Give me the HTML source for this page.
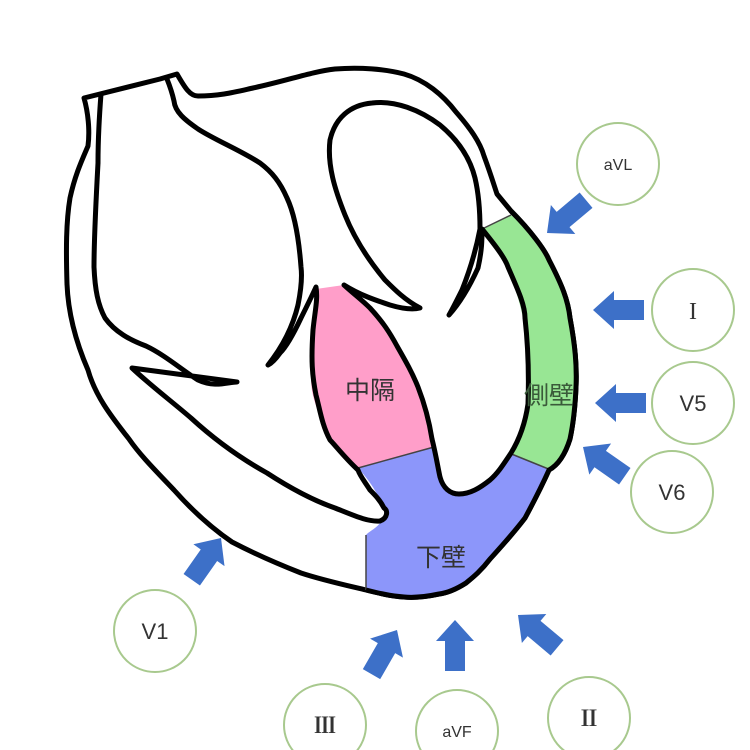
<!DOCTYPE html>
<html><head><meta charset="utf-8"><style>
html,body{margin:0;padding:0;background:#fff;width:750px;height:750px;overflow:hidden}
svg{display:block}
.t{font-family:"Liberation Sans","Noto Sans CJK JP",sans-serif;fill:#333}
.s{font-family:"Liberation Serif","Noto Serif CJK SC",serif}
.b{font-weight:bold}
</style></head><body>
<svg width="750" height="750" viewBox="0 0 750 750" xmlns="http://www.w3.org/2000/svg">
<defs>
<polygon id="ar" points="0,0 -21,-19 -21,-10 -51,-10 -51,10 -21,10 -21,19" fill="#3d70c8"/>
</defs>
<path d="M84,98 L160,79 L177,74 C185,88 190,96 198,96 C220,96 235,92 253,88 C290,80 310,72 335,69 C360,67 385,69 404,74 C425,80 443,95 456,112 C470,128 480,142 484,156 C490,172 494,185 497,194 L511,211 C530,230 545,250 549,260 C562,285 568,300 570,318 C575,345 577,365 576,387 C575,410 573,425 570,439 C565,455 558,465 549,470 C540,490 532,505 525,518 C512,535 500,548 490,559 C480,572 472,578 466,583 C455,590 447,593 439,594 C425,597 415,598 404,597 C390,596 378,593 366,590 C345,585 322,580 301,573 C278,564 255,554 232,542 C210,527 190,508 174,490 C155,470 140,455 129,439 C110,415 95,395 88,370 C75,340 68,310 67,284 C66,250 66,222 70,198 C75,175 82,160 88,146 C90,130 88,112 84,98 Z" fill="#fff" stroke="#000" stroke-width="5" stroke-linejoin="round"/>
<path d="M316,289 L344,285 C355,295 362,300 370,308 C383,322 390,333 397,346 C405,360 412,372 418,387 C425,405 429,420 432,439 L434,447 L358,468 C345,458 337,450 335,445 C326,430 322,425 322,421 C313,400 311,390 311,377 C311,355 312,340 313,330 C314,315 315,300 316,289 Z" fill="#ff9ec9"/>
<path d="M358,468 L434,447 C437,462 438,472 440,477 C443,488 450,494 459,494 C475,492 483,486 490,480 C500,470 506,460 509,453 L551,470 C545,485 535,505 525,518 C512,535 500,548 490,559 C480,572 472,578 466,583 C455,590 447,593 439,594 C425,597 415,598 404,597 C390,596 378,593 366,590 L366,535 C370,530 380,528 384,515 C385,505 382,498 377,494 C372,485 367,478 358,468 Z" fill="#8c96fa"/>
<path d="M482,229 L511,215 C530,232 542,248 549,260 C562,285 568,300 570,318 C575,345 577,365 576,387 C575,410 573,425 570,439 C565,455 558,465 551,470 L509,453 C516,443 521,430 528,404 C529,380 528,360 527,350 C525,320 520,300 508,270 C500,255 490,240 482,229 Z" fill="#98e694"/>
<path d="M358,468 L434,447 M509,453 L551,470 M366,535 L366,590 M482,229 L511,215" stroke="#444" stroke-width="1.5" fill="none"/>
<path d="M511,211 C530,230 545,250 549,260 C562,285 568,300 570,318 C575,345 577,365 576,387 C575,410 573,425 570,439 C565,455 558,465 549,470 C540,490 532,505 525,518 C512,535 500,548 490,559 C480,572 472,578 466,583 C455,590 447,593 439,594 C425,597 415,598 404,597 C390,596 378,593 366,590" fill="none" stroke="#000" stroke-width="5"/>
<path d="M101,94 C99,120 98,140 98,163 C96,200 94,240 94,267 C95,290 98,305 105,318 C115,332 130,340 146,346 C165,355 182,370 198,380 C215,388 228,382 237,382 L132,368 C150,385 170,400 191,418 C215,440 240,458 267,473 C290,488 312,500 335,508 C355,516 368,522 380,521 C388,518 388,510 384,508 C380,500 375,495 370,490 C365,482 360,476 358,470 C345,458 335,445 330,440 C322,425 320,410 316,395 C312,375 311,360 313,330 C315,310 318,300 316,287 C310,300 305,310 301,318 C293,335 285,348 280,353 C275,360 272,363 268,365 C280,350 292,330 298,305 C302,285 302,275 301,267 C299,240 295,215 287,198 C280,182 272,172 260,163 C240,150 215,140 198,129 C185,120 175,112 174,101 C172,92 169,84 167,79" fill="none" stroke="#000" stroke-width="5" stroke-linejoin="round" stroke-linecap="round"/>
<path d="M344,285 C360,295 375,300 390,305 C400,308 412,310 420,308 C405,300 395,290 385,280 C370,262 355,240 345,215 C335,190 327,165 330,140 C335,118 350,105 372,103 C395,100 420,110 440,125 C458,140 470,158 475,178 C479,195 480,212 480,229 C475,255 468,275 462,290 C456,302 452,310 449,315 C458,305 468,290 478,268 C482,250 482,240 482,229 C495,245 505,258 508,267 C518,290 525,305 525,318 C528,345 529,375 528,404 C525,425 519,440 511,453 C503,465 498,473 490,480 C480,488 470,494 459,494 C450,494 443,488 440,477 C438,468 436,455 432,439 C429,420 425,405 418,387 C412,372 405,360 397,346 C390,333 383,322 370,308 C362,300 355,295 344,285" fill="none" stroke="#000" stroke-width="5" stroke-linejoin="round" stroke-linecap="round"/>
<text class="t" x="370" y="399" font-size="25" text-anchor="middle">中隔</text>
<text class="t" x="549" y="404" font-size="25" text-anchor="middle" style="fill:#3a5a3a">側壁</text>
<text class="t" x="441" y="566" font-size="25" text-anchor="middle">下壁</text>
<g fill="#fff" stroke="#a8c98e" stroke-width="2">
<circle cx="618" cy="164" r="41"/>
<circle cx="693" cy="310" r="41"/>
<circle cx="693" cy="403" r="41"/>
<circle cx="672" cy="492" r="41"/>
<circle cx="155" cy="631" r="41"/>
<circle cx="325" cy="725" r="41"/>
<circle cx="457" cy="731" r="41"/>
<circle cx="589" cy="718" r="41"/>
</g>
<g class="t" text-anchor="middle">
<text x="618" y="170" font-size="16">aVL</text>
<text class="t s" x="693" y="319" font-size="24">I</text>
<text x="693" y="411" font-size="22">V5</text>
<text x="672" y="500" font-size="22">V6</text>
<text x="155" y="639" font-size="22">V1</text>
<text class="t s b" x="325" y="733" font-size="22">Ⅲ</text>
<text x="457" y="737" font-size="16">aVF</text>
<text class="t s b" x="589" y="726" font-size="22">Ⅱ</text>
</g>
<use href="#ar" transform="translate(547,233) rotate(140)"/>
<use href="#ar" transform="translate(593,310) rotate(180)"/>
<use href="#ar" transform="translate(595,403) rotate(180)"/>
<use href="#ar" transform="translate(583,447) rotate(215)"/>
<use href="#ar" transform="translate(221,538) rotate(-55)"/>
<use href="#ar" transform="translate(397,630) rotate(-60)"/>
<use href="#ar" transform="translate(455,620) rotate(-90)"/>
<use href="#ar" transform="translate(518,615) rotate(220)"/>
</svg>
</body></html>
